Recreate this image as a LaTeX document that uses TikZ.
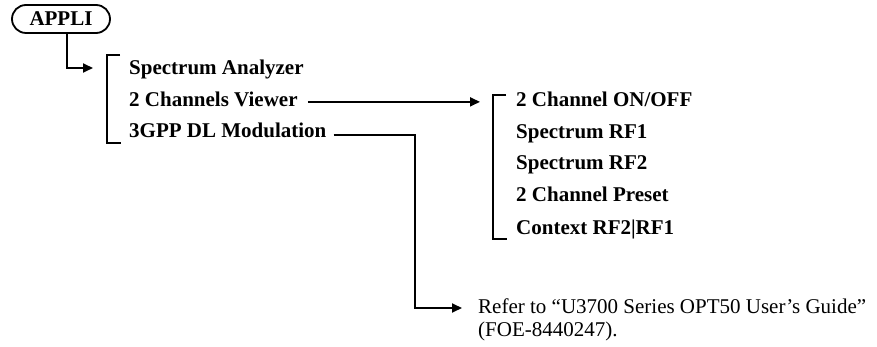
\documentclass[tikz,border=0pt]{standalone}
\usepackage{fontspec}
\setmainfont{Liberation Serif}
\usetikzlibrary{arrows.meta,positioning}
\tikzset{
  menu/.style={draw,line width=1.8pt,rectangle,rounded corners=14pt,minimum width=98pt,minimum height=28pt,inner sep=0pt,font=\fontsize{21}{23}\selectfont\bfseries},
  item/.style={anchor=base west,inner sep=0pt,font=\fontsize{21}{23}\selectfont\bfseries},
  note/.style={anchor=north west,inner sep=0pt,align=left,font=\fontsize{21}{23}\selectfont},
  bracket/.style={line width=1.8pt},
  link/.style={-{Triangle[length=10pt,width=9pt]},line width=1.8pt}
}

\begin{document}
\begin{tikzpicture}[x=1pt,y=-1pt]
\useasboundingbox (0,0) rectangle (877,347);

\node[menu] (appli) at (61,19) {APPLI};

\node[item] (sa) at (129,75) {Spectrum Analyzer};
\node[item] (cv) at (129,107) {2 Channels Viewer};
\node[item] (dl) at (129,138) {3GPP DL Modulation};

\node[item] (onoff) at (516,107) {2 Channel ON/OFF};
\node[item] (rfone) at (516,139) {Spectrum RF1};
\node[item] (rftwo) at (516,170) {Spectrum RF2};
\node[item] (preset) at (516,202) {2 Channel Preset};
\node[item] (context) at (516,234) {Context RF2|RF1};

\node[note] (refer) at (478,299) {Refer to ``U3700 Series OPT50 User's Guide''\\(FOE-8440247).};

% brackets
\draw[bracket] (120,55) -| (107,143) -- (121,143);
\draw[bracket] (506,95) -| (493,239) -- (507,239);

\coordinate (lbr) at (93,68);
\coordinate (rbr) at (480,0);
\coordinate (dlturn) at (415,308);
\coordinate (refin) at (462,308);

\draw[link] ([xshift=6pt]appli.south) |- (lbr);
\draw[link] ([xshift=10pt,yshift=-2pt]cv.east) coordinate (cvout) -- (cvout -| rbr);
\draw[link] ([xshift=7pt,yshift=-4pt]dl.east) -| (dlturn) -- (refin);

\end{tikzpicture}
\end{document}
